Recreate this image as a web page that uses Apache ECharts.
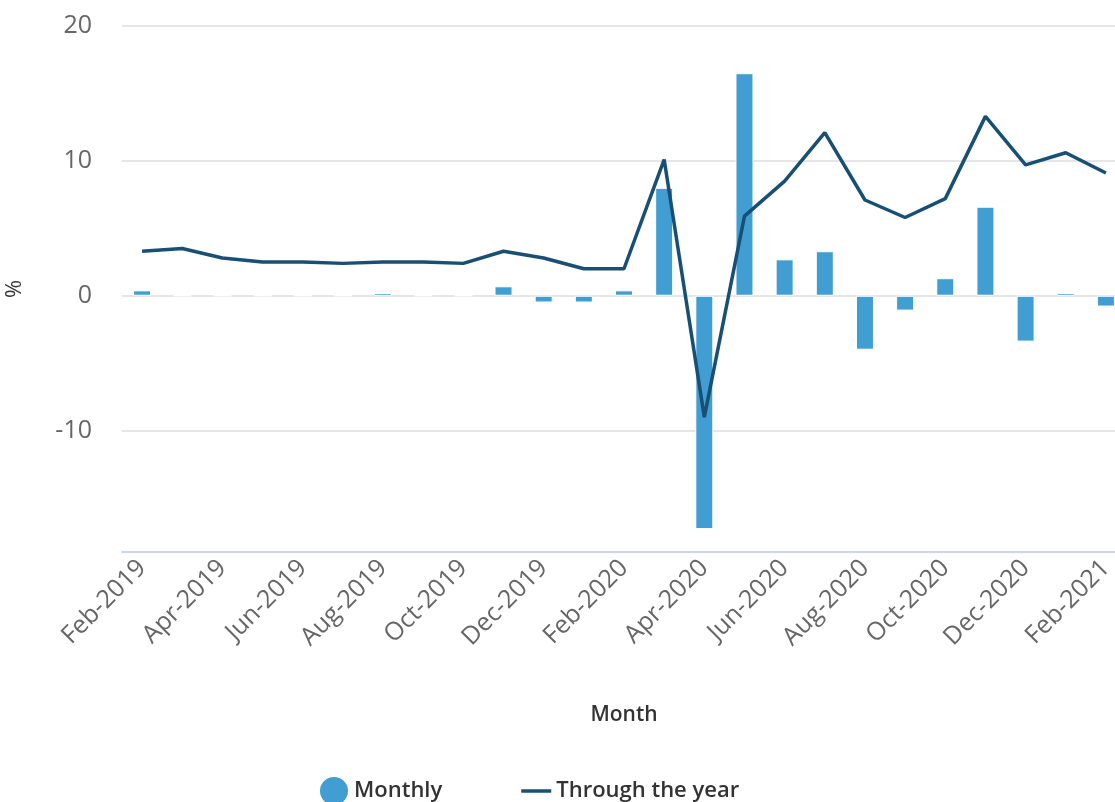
<!DOCTYPE html>
<html>
<head>
<meta charset="utf-8">
<script src="https://cdn.jsdelivr.net/npm/echarts@6/dist/echarts.min.js"></script>
<style>
  html, body { margin: 0; padding: 0; background: #fff; }
  #chart { width: 1115px; height: 802px; }
</style>
</head>
<body>
<div id="chart"></div>
<script>
// month labels
var months = [
  'Feb-2019', 'Mar-2019', 'Apr-2019', 'May-2019', 'Jun-2019', 'Jul-2019', 'Aug-2019',
  'Sep-2019', 'Oct-2019', 'Nov-2019', 'Dec-2019', 'Jan-2020', 'Feb-2020', 'Mar-2020',
  'Apr-2020', 'May-2020', 'Jun-2020', 'Jul-2020', 'Aug-2020', 'Sep-2020', 'Oct-2020',
  'Nov-2020', 'Dec-2020', 'Jan-2021', 'Feb-2021'
]
// monthly change (%)
var monthly = [
  0.4, 0, 0, 0, 0, 0, 0.2, 0, 0, 0.7, -0.5, -0.5, 0.4, 8.0,
  -17.3, 16.5, 2.7, 3.3, -4.0, -1.1, 1.3, 6.6, -3.4, 0.2, -0.8
]
// through the year (%)
var throughYear = [
  3.3, 3.5, 2.8, 2.5, 2.5, 2.4, 2.5, 2.5, 2.4, 3.3, 2.8, 2.0, 2.0, 10.1,
  -9.0, 5.9, 8.5, 12.1, 7.1, 5.8, 7.2, 13.3, 9.7, 10.6, 9.1
]
var yTicks = [-10, 0, 10, 20]

var font = '"Open Sans", "Noto Sans", sans-serif'
var chart = echarts.init(document.getElementById('chart'))
chart.setOption({
  animation: false,
  textStyle: { fontFamily: font },
  grid: {
    left: 122,
    right: -11,
    top: 26,
    bottom: 250,
    outerBoundsMode: 'none'
  },
  legend: {
    bottom: -10,
    left: 313,
    itemGap: 79,
    itemWidth: 30,
    itemHeight: 30,
    textStyle: { fontSize: 22, fontWeight: 600, color: '#333', fontFamily: font },
    data: [
      { name: 'Monthly', icon: 'circle' },
      { name: 'Through the year', icon: 'path://M0,0 L30,0 L30,3.5 L0,3.5 Z' }
    ]
  },
  xAxis: {
    type: 'category',
    data: months,
    name: 'Month',
    nameLocation: 'middle',
    nameGap: 163,
    nameTextStyle: { fontSize: 21, fontWeight: 600, color: '#333', verticalAlign: 'middle' },
    axisLine: { onZero: false, lineStyle: { color: '#ccd6eb', width: 2 } },
    axisTick: { show: false },
    axisLabel: {
      interval: 1,
      rotate: 45,
      margin: 12,
      fontSize: 25,
      color: '#666'
    }
  },
  yAxis: {
    type: 'value',
    min: -19,
    max: 20,
    name: '%',
    nameLocation: 'middle',
    nameGap: 96,
    nameTextStyle: { fontSize: 22, color: '#333' },
    axisLine: { show: false },
    axisTick: { show: false, customValues: yTicks },
    axisLabel: { customValues: yTicks, margin: 30, fontSize: 25, color: '#666' },
    splitLine: { lineStyle: { color: '#e6e6e6', width: 2 } }
  },
  series: [
    {
      name: 'Monthly',
      type: 'bar',
      data: monthly,
      barWidth: 18,
      itemStyle: { color: '#409ed2', borderColor: '#fff', borderWidth: 1 }
    },
    {
      name: 'Through the year',
      type: 'line',
      data: throughYear,
      symbol: 'none',
      lineStyle: { color: '#184f74', width: 3.5 },
      itemStyle: { color: '#184f74' }
    }
  ]
})
</script>
</body>
</html>
